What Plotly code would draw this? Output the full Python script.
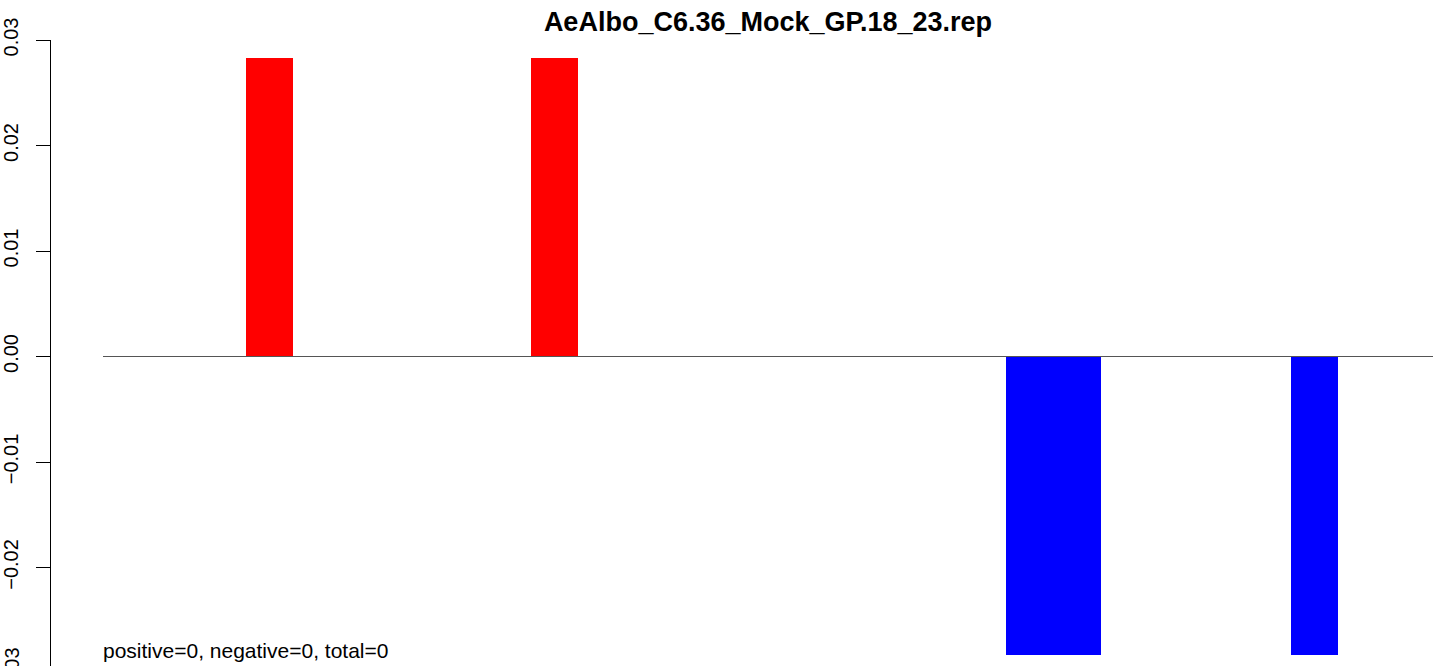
import plotly.graph_objects as go

# ---- data ----
title_text = "AeAlbo_C6.36_Mock_GP.18_23.rep"
positions = list(range(1, 29))  # 28 bars
values = [0, 0, 0, 0.0283, 0, 0, 0, 0, 0, 0.0283,
          0, 0, 0, 0, 0, 0, 0, 0, 0, -0.0283,
          -0.0283, 0, 0, 0, 0, -0.0283, 0, 0]
ytick_vals = [-0.02, -0.01, 0.00, 0.01, 0.02, 0.03]
ytick_text = ["\u22120.02", "\u22120.01", "0.00", "0.01", "0.02", "0.03"]
extra_tick_val = -0.03
extra_tick_text = "\u22120.03"
note_text = "positive=0, negative=0, total=0"

W, H = 1441, 666
ML, MT = 51, 40
unit_px = 47.5
x_left = -(103 - ML) / unit_px
x_right = x_left + (W - ML) / unit_px
y_top = 0.03
px_per_val = 10550.0
y_bot = y_top - (H - MT) / px_per_val

centers = [p - 0.5 for p in positions]
colors = ["red" if v > 0 else "blue" for v in values]

fig = go.Figure()
fig.add_trace(go.Bar(x=centers, y=values, width=1.0,
                     marker=dict(color=colors, line=dict(width=0)),
                     showlegend=False))
# baseline across bar span
fig.add_trace(go.Scatter(x=[positions[0] - 1, positions[-1]], y=[0, 0], mode="lines",
                         line=dict(color="#555555", width=1), showlegend=False,
                         hoverinfo="skip"))

font_family = "Liberation Sans, Arial, Helvetica, sans-serif"

fig.update_layout(
    width=W, height=H,
    margin=dict(l=ML, r=0, t=MT, b=0, pad=0, autoexpand=False),
    paper_bgcolor="white", plot_bgcolor="white",
    bargap=0,
    font=dict(family=font_family, color="black", size=20),
    title=dict(text="<b>" + title_text + "</b>", x=768 / W, xref="container", xanchor="center",
               y=1 - 22 / H, yref="container", yanchor="middle", automargin=False,
               font=dict(size=27, family=font_family, color="black")),
    xaxis=dict(range=[x_left, x_right], visible=False, showgrid=False, zeroline=False,
               automargin=False),
    yaxis=dict(range=[y_bot, y_top], tickvals=ytick_vals, ticktext=ytick_text,
               ticks="outside", ticklen=14, tickwidth=1, tickcolor="black",
               showline=True, linecolor="black", linewidth=1, tickangle=-90,
               ticklabelstandoff=10,
               showgrid=False, zeroline=False, automargin=False,
               tickfont=dict(size=20, family=font_family, color="black")),
)

# clipped tick label at -0.03 (falls just below the visible canvas)
fig.add_annotation(text=extra_tick_text, xref="paper", yref="paper",
                   x=0, xshift=-39, xanchor="center",
                   y=(extra_tick_val - y_bot) / (y_top - y_bot), yanchor="middle",
                   textangle=-90, showarrow=False,
                   font=dict(size=20, family=font_family, color="black"))

fig.add_annotation(text=note_text, xref="x", yref="paper", x=0, xanchor="left",
                   xshift=-1, borderpad=0,
                   y=(H - 650) / (H - MT), yanchor="middle", showarrow=False,
                   font=dict(size=21, family=font_family, color="black"))

fig.write_html("out.html", config={"displayModeBar": False},
               post_script="document.body.style.margin='0px';document.body.style.overflow='hidden';")
